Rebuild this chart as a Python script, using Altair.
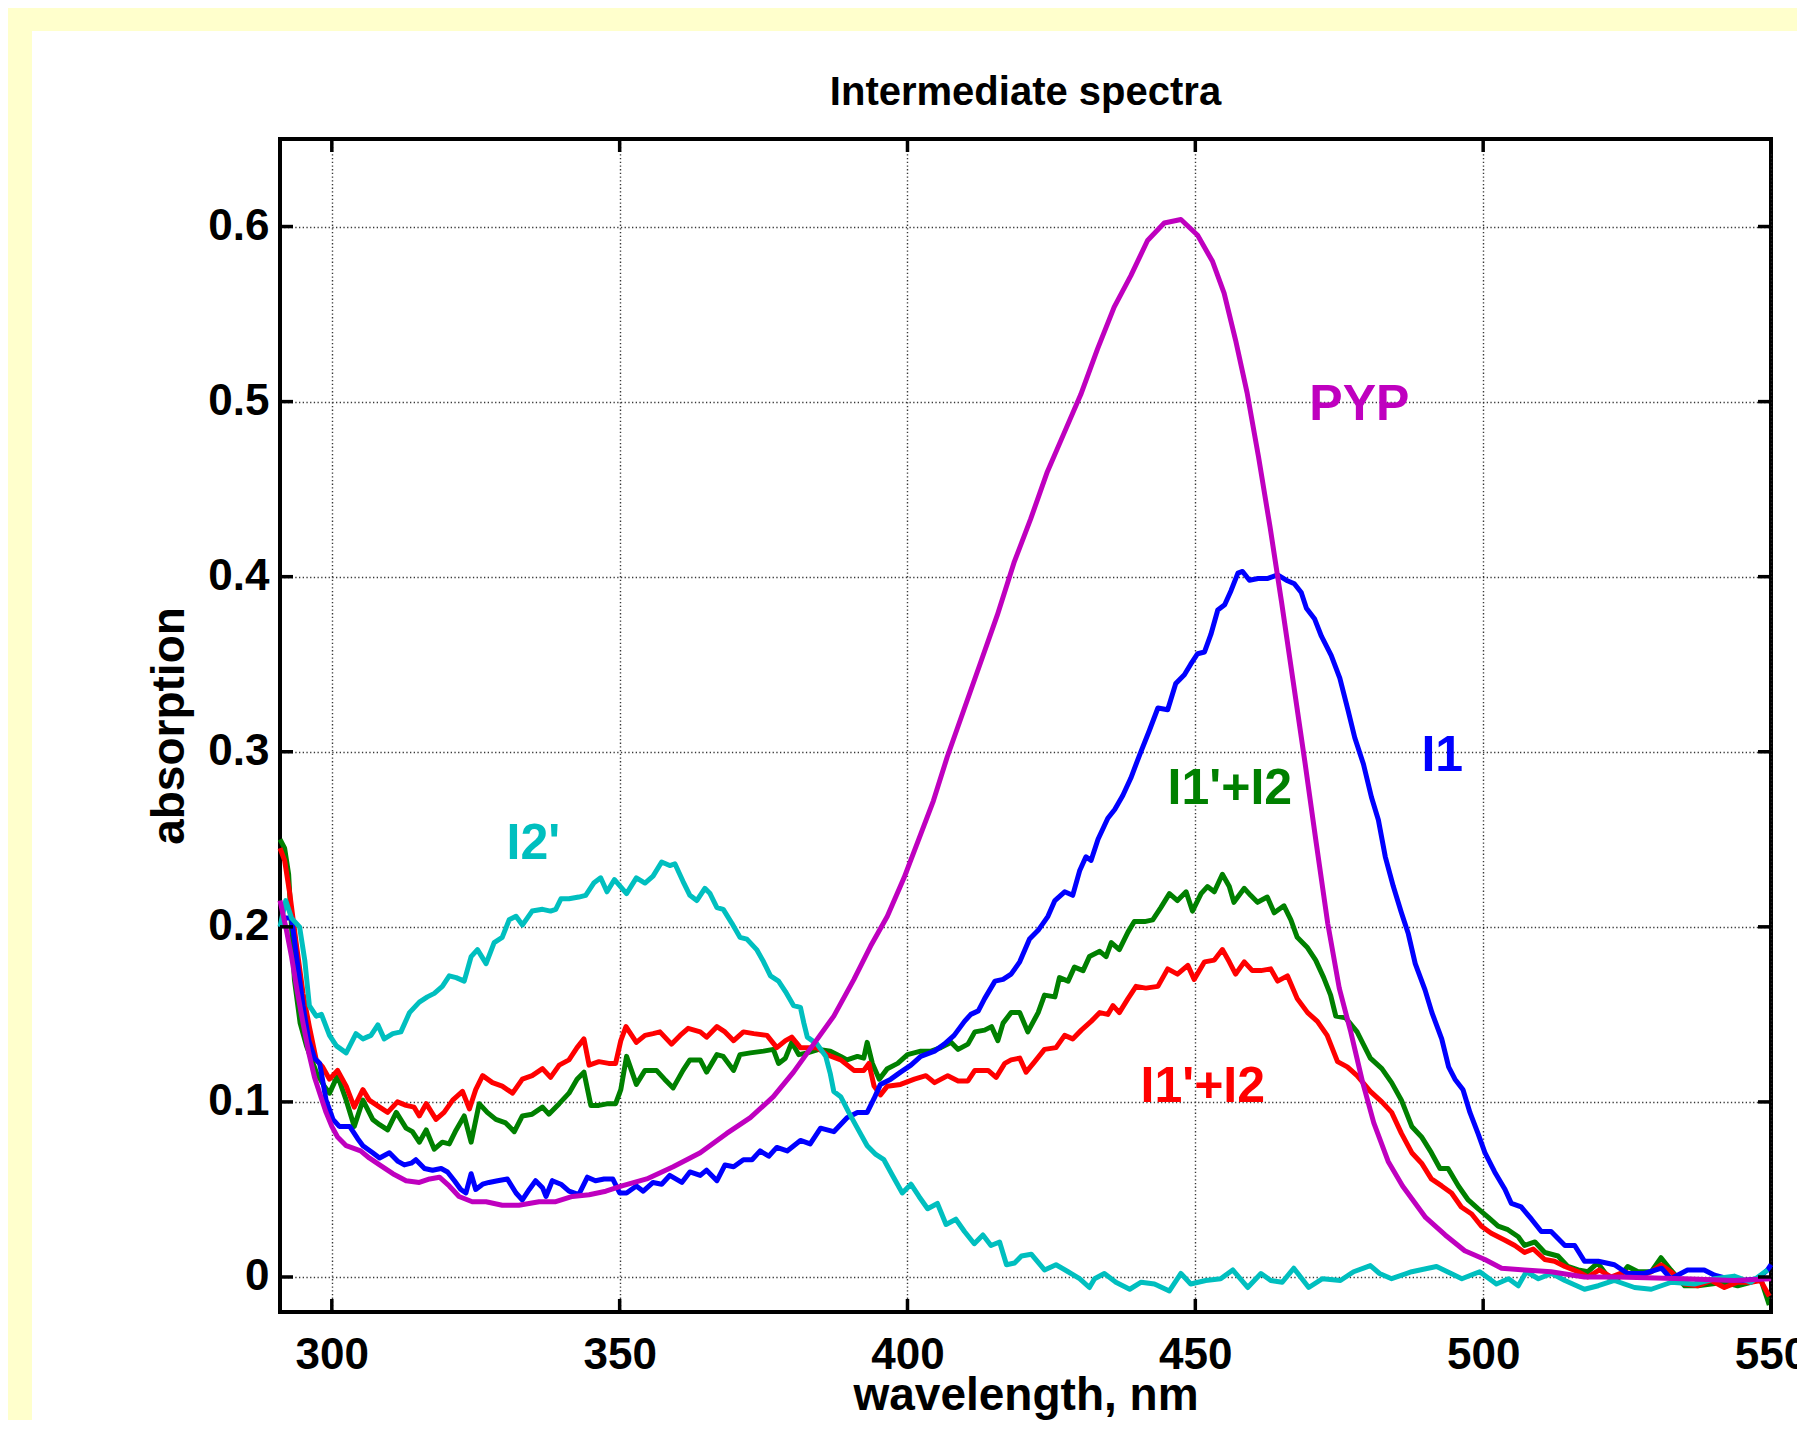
import altair as alt
import pandas as pd

# ---------------- data (wavelength nm, absorption) ----------------
PYP = [(291, 0.215), (292, 0.200), (293, 0.183), (294, 0.163), (295, 0.145), (296, 0.128), (297, 0.114),
       (298, 0.104), (299, 0.094), (300, 0.086), (301, 0.080), (302.5, 0.075), (305, 0.072), (306.5, 0.068),
       (308.3, 0.064), (310.6, 0.059), (312.9, 0.055), (315.2, 0.054), (317, 0.056), (318.7, 0.057),
       (320.4, 0.052), (322.1, 0.046), (324.4, 0.043), (326.8, 0.043), (329.6, 0.041), (332.5, 0.041),
       (336, 0.043), (338.9, 0.043), (341.8, 0.046), (344.7, 0.047), (347.6, 0.049), (350.4, 0.052),
       (354.7, 0.056), (359.3, 0.063), (364, 0.071), (368.6, 0.082), (372.7, 0.091), (376.7, 0.103),
       (380.2, 0.117), (383.7, 0.133), (387.2, 0.149), (390.7, 0.170), (393.6, 0.189), (396.5, 0.206),
       (399.4, 0.228), (402.3, 0.253), (404.5, 0.272), (406.9, 0.297), (409.8, 0.324), (412.7, 0.351),
       (415.6, 0.378), (418.5, 0.408), (421.4, 0.433), (424.3, 0.460), (427.2, 0.482), (430.1, 0.504),
       (433, 0.530), (435.9, 0.554), (438.8, 0.572), (441.7, 0.592), (444.6, 0.602), (447.5, 0.604),
       (450.4, 0.595), (453, 0.580), (455, 0.562), (457, 0.535), (459, 0.505), (461, 0.468), (463, 0.428),
       (465, 0.385), (467, 0.340), (469, 0.295), (471, 0.248), (473, 0.202), (475, 0.165), (477, 0.140),
       (479, 0.112), (481, 0.088), (483.5, 0.066), (486, 0.052), (488, 0.043), (490, 0.034), (493.4, 0.024),
       (496.8, 0.015), (500.3, 0.010), (503.2, 0.005), (507.2, 0.004), (511.8, 0.003), (517.6, 0.000),
       (523.4, 0.000), (534.9, -0.001), (543.6, -0.002), (550, -0.001)]

I1 = [(291, 0.200), (292, 0.205), (293, 0.205), (294, 0.180), (295, 0.155), (296, 0.135), (297, 0.125),
      (297.9, 0.122), (299, 0.101), (300.2, 0.090), (301.3, 0.086), (303.1, 0.086), (304.5, 0.079),
      (305.4, 0.075), (307.1, 0.071), (308.3, 0.068), (310, 0.071), (311.5, 0.066), (312.6, 0.064),
      (313.8, 0.065), (314.6, 0.067), (316.1, 0.062), (317.5, 0.061), (319, 0.062), (320.1, 0.060),
      (321.3, 0.055), (322.4, 0.050), (323.3, 0.048), (324.2, 0.059), (325, 0.050), (326.2, 0.053),
      (327.3, 0.054), (328.8, 0.055), (330.5, 0.056), (332, 0.048), (333.1, 0.044), (334.3, 0.050),
      (335.4, 0.055), (336.6, 0.051), (337.2, 0.046), (338.3, 0.055), (339.8, 0.053), (341.2, 0.049),
      (342.9, 0.047), (344.4, 0.057), (345.8, 0.055), (347.3, 0.056), (348.8, 0.056), (350, 0.048),
      (351.2, 0.048), (352.9, 0.052), (354.1, 0.049), (355.8, 0.054), (357.3, 0.053), (358.7, 0.058),
      (360.8, 0.054), (362.2, 0.060), (364, 0.058), (365.1, 0.061), (366.9, 0.055), (368.3, 0.064),
      (369.8, 0.063), (371.5, 0.067), (373, 0.067), (374.4, 0.072), (375.9, 0.069), (377.3, 0.074),
      (379.1, 0.072), (381.4, 0.078), (383.1, 0.076), (384.9, 0.085), (387.2, 0.083), (389.5, 0.091),
      (391.3, 0.094), (393, 0.094), (394.2, 0.102), (395.3, 0.110), (397.1, 0.113), (398.8, 0.117),
      (400.6, 0.121), (402.3, 0.126), (404.7, 0.129), (406.4, 0.133), (408.1, 0.138), (409.9, 0.146),
      (411, 0.150), (412.3, 0.152), (413.4, 0.159), (415.2, 0.169), (416.6, 0.170), (418, 0.173),
      (419.5, 0.180), (421.2, 0.193), (422.7, 0.198), (424.4, 0.206), (425.6, 0.215), (427.3, 0.220),
      (428.7, 0.218), (429.9, 0.232), (431, 0.240), (431.9, 0.238), (433.1, 0.250), (434.8, 0.262),
      (436, 0.267), (437.4, 0.275), (438.8, 0.285), (440.3, 0.298), (442, 0.312), (443.5, 0.325),
      (445.2, 0.324), (446.6, 0.339), (448.1, 0.344), (449.2, 0.350), (450.4, 0.356), (451.6, 0.357),
      (452.7, 0.367), (453.9, 0.381), (455.1, 0.384), (456.2, 0.392), (457.4, 0.402), (458.2, 0.403),
      (459.4, 0.398), (460.9, 0.399), (462.6, 0.399), (464.3, 0.401), (465.8, 0.398), (467.2, 0.396),
      (468.4, 0.391), (469.3, 0.382), (470.7, 0.376), (471.9, 0.366), (473.6, 0.355), (475.1, 0.342),
      (476.5, 0.324), (477.7, 0.308), (479.2, 0.293), (480.6, 0.274), (481.8, 0.261), (483, 0.240),
      (484.4, 0.223), (485.8, 0.208), (487, 0.196), (488.2, 0.179), (489.9, 0.164), (491.1, 0.151),
      (492.8, 0.136), (494, 0.120), (495.1, 0.113), (496.5, 0.107), (497.7, 0.094), (499.1, 0.082),
      (500.3, 0.071), (502, 0.060), (503.8, 0.050), (504.9, 0.042), (506.6, 0.040), (508.4, 0.033),
      (510.1, 0.026), (511.8, 0.026), (514.2, 0.018), (515.9, 0.018), (517.6, 0.009), (520, 0.009),
      (522.8, 0.007), (525.1, 0.002), (528, 0.002), (531, 0.005), (532.6, -0.001), (535.5, 0.004),
      (538.4, 0.004), (540.2, 0.001), (542.5, -0.001), (545.3, -0.002), (547.7, -0.001), (549.4, 0.004),
      (550, 0.007)]

MIX_GREEN = [(291, 0.250), (291.8, 0.245), (292.5, 0.230), (293.5, 0.170), (294.5, 0.145), (295.6, 0.132),
             (297.3, 0.117), (298.7, 0.109), (299.6, 0.105), (301, 0.115), (302.5, 0.101), (303.9, 0.086),
             (305.4, 0.101), (307.1, 0.090), (308.3, 0.087), (309.7, 0.084), (311.2, 0.094), (312.9, 0.085),
             (314, 0.083), (315.2, 0.077), (316.4, 0.084), (317.8, 0.073), (319.2, 0.077), (320.4, 0.076),
             (321.6, 0.084), (323, 0.092), (324.2, 0.077), (325.6, 0.099), (327, 0.094), (328.5, 0.090),
             (330.2, 0.088), (331.7, 0.083), (333.1, 0.092), (334.8, 0.093), (336.6, 0.097), (337.7, 0.093),
             (339.5, 0.099), (341.2, 0.105), (342.6, 0.113), (343.8, 0.117), (345, 0.098), (346.4, 0.098),
             (348, 0.099), (349.3, 0.099), (350.2, 0.107), (351.2, 0.126), (352.9, 0.110), (354.4, 0.118),
             (356.4, 0.118), (357.8, 0.113), (359.3, 0.108), (361, 0.118), (362.2, 0.124), (364, 0.124),
             (365.1, 0.117), (366.9, 0.127), (368, 0.126), (369.8, 0.118), (370.9, 0.127), (372.7, 0.128),
             (375, 0.129), (376.7, 0.130), (377.6, 0.122), (378.8, 0.125), (379.9, 0.134), (381.1, 0.127),
             (382.6, 0.128), (384.6, 0.130), (386.6, 0.129), (388.4, 0.126), (389.5, 0.124), (391.3, 0.126),
             (392.4, 0.125), (393, 0.134), (393.9, 0.122), (395.1, 0.113), (396.5, 0.119), (398.3, 0.122),
             (400, 0.127), (402.3, 0.129), (404.1, 0.129), (405.8, 0.131), (407.6, 0.134), (408.8, 0.130),
             (410.5, 0.133), (411.7, 0.140), (413.4, 0.141), (414.6, 0.143), (415.7, 0.135), (416.6, 0.145),
             (418, 0.151), (419.5, 0.151), (420.9, 0.140), (422.7, 0.151), (423.8, 0.161), (425.6, 0.160),
             (426.4, 0.171), (427.9, 0.169), (429, 0.177), (430.5, 0.175), (431.6, 0.183), (433.4, 0.186),
             (434.5, 0.183), (435.4, 0.191), (436.8, 0.187), (438.3, 0.197), (439.4, 0.203), (441.2, 0.203),
             (442.6, 0.204), (444, 0.211), (445.5, 0.219), (446.9, 0.215), (448.4, 0.220), (449.5, 0.209),
             (451, 0.219), (452.1, 0.223), (453.3, 0.220), (454.7, 0.230), (455.9, 0.223), (456.7, 0.214),
             (458.5, 0.222), (459.6, 0.218), (460.8, 0.214), (462.5, 0.217), (463.7, 0.208), (465.4, 0.212),
             (466.6, 0.204), (467.7, 0.194), (469.5, 0.188), (470.9, 0.181), (472.3, 0.171), (473.5, 0.161),
             (474.4, 0.149), (476.1, 0.148), (478.1, 0.140), (480.4, 0.125), (482.4, 0.119), (484.1, 0.111),
             (485.8, 0.101), (487.6, 0.086), (489.3, 0.080), (491, 0.071), (492.5, 0.062), (493.9, 0.062),
             (495.7, 0.052), (497.4, 0.044), (499.1, 0.039), (500.9, 0.034), (502.6, 0.029), (504.3, 0.027),
             (506.1, 0.023), (507.2, 0.018), (509, 0.020), (510.7, 0.014), (513, 0.012), (514.7, 0.006),
             (516.5, 0.004), (518.2, 0.003), (519.9, 0.008), (521.7, 0.000), (523.4, -0.001), (525.1, 0.006),
             (526.9, 0.003), (529.2, 0.003), (530.9, 0.011), (532.6, 0.004), (535, -0.005), (537.3, -0.005),
             (539.6, -0.004), (541.9, -0.003), (544.2, -0.005), (546.5, -0.003), (548.2, -0.001),
             (549.7, -0.016)]

MIX_RED = [(291, 0.245), (291.8, 0.238), (292.7, 0.219), (293.8, 0.191), (295, 0.162), (296.1, 0.143),
           (297.3, 0.124), (298.4, 0.120), (299.6, 0.113), (301, 0.118), (302.5, 0.109), (303.9, 0.097),
           (305.4, 0.107), (306.5, 0.101), (308.3, 0.097), (309.7, 0.094), (311.4, 0.100), (312.9, 0.098),
           (314.3, 0.097), (315.2, 0.092), (316.4, 0.099), (318.1, 0.090), (319.5, 0.094), (321, 0.101),
           (322.7, 0.106), (323.9, 0.096), (325, 0.107), (326.2, 0.115), (327.9, 0.111), (329.6, 0.109),
           (331.4, 0.105), (333.1, 0.113), (334.8, 0.115), (336.6, 0.119), (338, 0.114), (339.5, 0.121),
           (341.2, 0.124), (342.6, 0.131), (343.8, 0.136), (344.7, 0.121), (346.4, 0.123), (348.1, 0.122),
           (349.3, 0.122), (350.2, 0.135), (351.1, 0.143), (352.9, 0.134), (354.4, 0.138), (355.8, 0.139),
           (357, 0.140), (359, 0.133), (360.5, 0.138), (361.9, 0.142), (364, 0.140), (365.1, 0.137),
           (366.9, 0.143), (368.3, 0.140), (369.8, 0.135), (371.5, 0.140), (373.3, 0.139), (375.6, 0.138),
           (377.3, 0.131), (378.8, 0.135), (379.9, 0.137), (381.4, 0.131), (382.8, 0.131), (384.3, 0.131),
           (386, 0.127), (388.4, 0.124), (390.7, 0.118), (392.4, 0.118), (393.3, 0.122), (394.2, 0.109),
           (395.3, 0.104), (396.5, 0.109), (398.8, 0.110), (401.2, 0.113), (403.2, 0.115), (404.7, 0.111),
           (407, 0.115), (408.8, 0.112), (410.5, 0.112), (411.7, 0.118), (414, 0.118), (415.4, 0.114),
           (416.9, 0.122), (418, 0.124), (419.5, 0.125), (420.6, 0.117), (422.1, 0.123), (423.8, 0.130),
           (425.8, 0.131), (427.3, 0.138), (428.7, 0.136), (430.2, 0.141), (431.9, 0.146), (433.4, 0.151),
           (434.8, 0.150), (435.7, 0.155), (436.8, 0.151), (438.3, 0.159), (439.7, 0.166), (441.4, 0.165),
           (443.5, 0.166), (445.2, 0.176), (446.9, 0.173), (448.7, 0.178), (449.8, 0.170), (451.6, 0.180),
           (453.3, 0.181), (454.7, 0.187), (455.9, 0.180), (457, 0.173), (458.5, 0.180), (459.9, 0.175),
           (461.4, 0.175), (463.1, 0.176), (464.3, 0.169), (466, 0.172), (467.7, 0.159), (469.5, 0.151),
           (471.2, 0.146), (472.9, 0.138), (474.7, 0.123), (476.4, 0.120), (478.1, 0.115), (480.4, 0.106),
           (482.4, 0.100), (484.1, 0.094), (485.8, 0.082), (487.6, 0.071), (489.3, 0.065), (491, 0.056),
           (492.8, 0.052), (494.5, 0.048), (496.2, 0.040), (498, 0.036), (499.7, 0.029), (501.4, 0.025),
           (503.8, 0.021), (505.5, 0.018), (507.2, 0.014), (508.7, 0.016), (510.7, 0.010), (512.4, 0.009),
           (514.2, 0.006), (516.5, 0.003), (518.2, 0.000), (520.2, 0.004), (522.2, 0.000), (524.6, 0.003),
           (526.9, 0.000), (529.2, 0.003), (530.9, 0.007), (532.6, 0.003), (535, -0.004), (537.3, -0.005),
           (539.6, -0.002), (541.9, -0.006), (544.2, -0.003), (546.5, -0.003), (548.2, -0.002),
           (549.7, -0.011)]

I2P = [(291, 0.200), (292, 0.215), (293, 0.205), (294.4, 0.200), (295.3, 0.181), (296.1, 0.155),
       (297.3, 0.149), (298.2, 0.150), (299.6, 0.138), (300.8, 0.132), (302.5, 0.128), (304.2, 0.139),
       (305.4, 0.136), (306.8, 0.138), (308, 0.144), (309.1, 0.136), (310.6, 0.139), (312, 0.140),
       (313.5, 0.151), (315.2, 0.157), (316.6, 0.160), (317.8, 0.162), (319.2, 0.166), (320.4, 0.172),
       (321.6, 0.171), (323, 0.169), (324.2, 0.183), (325.3, 0.187), (326.8, 0.179), (328.2, 0.191),
       (329.6, 0.194), (330.8, 0.204), (332, 0.206), (333.1, 0.201), (334.8, 0.209), (336.6, 0.210),
       (338, 0.209), (338.9, 0.210), (339.8, 0.216), (341.2, 0.216), (342.9, 0.217), (344.1, 0.218),
       (345.5, 0.225), (346.7, 0.228), (347.8, 0.220), (349.1, 0.227), (351.2, 0.219), (352.9, 0.228),
       (354.4, 0.225), (355.8, 0.229), (357.3, 0.237), (358.7, 0.235), (359.6, 0.236), (361, 0.226),
       (362.2, 0.218), (363.4, 0.215), (364.8, 0.222), (365.7, 0.219), (366.9, 0.211), (368, 0.210),
       (369.5, 0.202), (370.9, 0.194), (372.1, 0.193), (373.8, 0.187), (375, 0.180), (376.2, 0.172),
       (377.6, 0.169), (378.8, 0.163), (380.2, 0.155), (381.4, 0.154), (382, 0.145), (382.6, 0.137),
       (384.3, 0.133), (385.8, 0.126), (386.6, 0.116), (387.2, 0.106), (388.4, 0.103), (389.8, 0.094),
       (391.3, 0.085), (393, 0.075), (394.5, 0.070), (395.9, 0.067), (397.4, 0.058), (399.1, 0.048),
       (400.6, 0.053), (402, 0.046), (403.5, 0.039), (405.2, 0.042), (406.7, 0.030), (408.4, 0.033),
       (409.9, 0.026), (411.6, 0.019), (413.1, 0.024), (414.5, 0.018), (416, 0.020), (417.2, 0.007),
       (418.6, 0.008), (419.8, 0.012), (421.5, 0.013), (423.8, 0.004), (425.8, 0.007), (427.9, 0.003),
       (429.9, -0.001), (431.6, -0.006), (432.5, -0.001), (434.2, 0.002), (436.2, -0.003), (438.6, -0.007),
       (440.6, -0.003), (442.9, -0.004), (445.5, -0.008), (447.5, 0.002), (449.2, -0.004), (451.8, -0.002),
       (454.4, -0.001), (456.5, 0.004), (459.1, -0.006), (461.4, 0.002), (463.1, -0.002), (465.1, -0.003),
       (467.1, 0.005), (469.7, -0.006), (472.1, -0.001), (475.2, -0.002), (477.5, 0.003), (480.4, 0.0065),
       (482, 0.002), (484.1, -0.001), (487.6, 0.003), (491.9, 0.006), (496.3, -0.001), (499.4, 0.003),
       (502.3, -0.004), (504.4, -0.001), (506.1, -0.005), (507.5, 0.003), (509.6, -0.001), (511.9, 0.002),
       (514.2, -0.002), (517.6, -0.007), (520, -0.005), (522.8, -0.002), (526.3, -0.006), (529.2, -0.007),
       (532.7, -0.003), (536.7, -0.004), (540.2, -0.001), (543.6, 0.0005), (546.5, -0.003), (549.4, 0.004)]

# curve labels: (key, text, wavelength, absorption at baseline)
LABELS = [("pyp", "PYP", 478.5, 0.4897),
          ("i1", "I1", 492.9, 0.289),
          ("mix_green", "I1'+I2", 456.0, 0.270),
          ("mix_red", "I1'+I2", 451.3, 0.0998),
          ("i2p", "I2'", 335.0, 0.2387)]

X_TICKS = [300, 350, 400, 450, 500, 550]
Y_TICKS = [0, 0.1, 0.2, 0.3, 0.4, 0.5, 0.6]

COLORS = {"pyp": "#BF00BF", "i1": "#0000FF", "mix_green": "#008000",
          "mix_red": "#FF0000", "i2p": "#00BFBF"}
DRAW_ORDER = [("mix_green", MIX_GREEN), ("mix_red", MIX_RED), ("i1", I1), ("i2p", I2P), ("pyp", PYP)]

# ---------------- layout ----------------
W, H = 1491, 1173
PAD = {"left": 272, "top": 131, "right": 26, "bottom": 108}
FONT = "Liberation Sans"
TICK = 13

x_scale = alt.Scale(domain=[291, 550], nice=False, zero=False)
y_scale = alt.Scale(domain=[-0.02, 0.65], nice=False, zero=False)
color_scale = alt.Scale(domain=list(COLORS.keys()), range=list(COLORS.values()))

grid_style = dict(grid=True, gridColor="#222222", gridOpacity=0.9, gridDash=[1.3, 2.4], gridWidth=1.4,
                  ticks=False, tickSize=0, domain=False,
                  labelFont=FONT, labelFontSize=44, labelFontWeight="bold", labelColor="black",
                  titleFont=FONT, titleFontSize=46, titleFontWeight="bold", titleColor="black")

x_axis = alt.Axis(values=X_TICKS, title="wavelength, nm", labelPadding=21, labelFlush=False,
                  titleX=W / 2, titleY=97, titleAlign="center", titleBaseline="alphabetic",
                  **grid_style)
y_axis = alt.Axis(values=Y_TICKS, title="absorption", format=".1~f", labelPadding=11,
                  titleX=-97, titleY=H / 2, titleAngle=270, titleAlign="center",
                  titleBaseline="alphabetic", **grid_style)

X = lambda f: alt.X(f, type="quantitative", scale=x_scale, axis=x_axis)
Y = lambda f: alt.Y(f, type="quantitative", scale=y_scale, axis=y_axis)

layers = []

# yellow figure border (left and top bands)
one = pd.DataFrame({"k": [0]})
layers.append(alt.Chart(one).mark_rect(color="#FFFFCC").encode(
    x=alt.value(-PAD["left"]), x2=alt.value(-248), y=alt.value(-PAD["top"]), y2=alt.value(H + PAD["bottom"])))
layers.append(alt.Chart(one).mark_rect(color="#FFFFCC").encode(
    x=alt.value(-PAD["left"]), x2=alt.value(W + PAD["right"]), y=alt.value(-PAD["top"]), y2=alt.value(-108)))

# spectra
for key, pts in DRAW_ORDER:
    df = pd.DataFrame(pts, columns=["nm", "a"])
    df["series"] = key
    layers.append(alt.Chart(df).mark_line(strokeWidth=5, strokeJoin="round").encode(
        x=X("nm"), y=Y("a"),
        color=alt.Color("series:N", scale=color_scale, legend=None)))

# curve labels
lab = pd.DataFrame(LABELS, columns=["series", "text", "nm", "a"])
layers.append(alt.Chart(lab).mark_text(font=FONT, fontSize=50, fontWeight="bold", align="center",
                                       baseline="alphabetic").encode(
    x=X("nm"), y=Y("a"), text="text:N",
    color=alt.Color("series:N", scale=color_scale, legend=None)))

# inward ticks on all four sides
xt = pd.DataFrame({"t": X_TICKS})
yt = pd.DataFrame({"t": Y_TICKS})
tick_mark = dict(color="black", strokeWidth=3.5)
layers.append(alt.Chart(xt).mark_rule(**tick_mark).encode(x=X("t"), y=alt.value(H), y2=alt.value(H - TICK)))
layers.append(alt.Chart(xt).mark_rule(**tick_mark).encode(x=X("t"), y=alt.value(0), y2=alt.value(TICK)))
layers.append(alt.Chart(yt).mark_rule(**tick_mark).encode(y=Y("t"), x=alt.value(0), x2=alt.value(TICK)))
layers.append(alt.Chart(yt).mark_rule(**tick_mark).encode(y=Y("t"), x=alt.value(W), x2=alt.value(W - TICK)))

chart = alt.layer(*layers).properties(
    width=W, height=H,
    autosize=alt.AutoSizeParams(type="none"),
    padding=PAD,
    background="white",
    title=alt.TitleParams("Intermediate spectra", font=FONT, fontSize=40, fontWeight="bold",
                          color="black", anchor="middle", frame="group", baseline="alphabetic",
                          offset=-137),
).configure_view(stroke="black", strokeWidth=4)

chart.save("out.html", embed_options={"renderer": "svg", "actions": False})
